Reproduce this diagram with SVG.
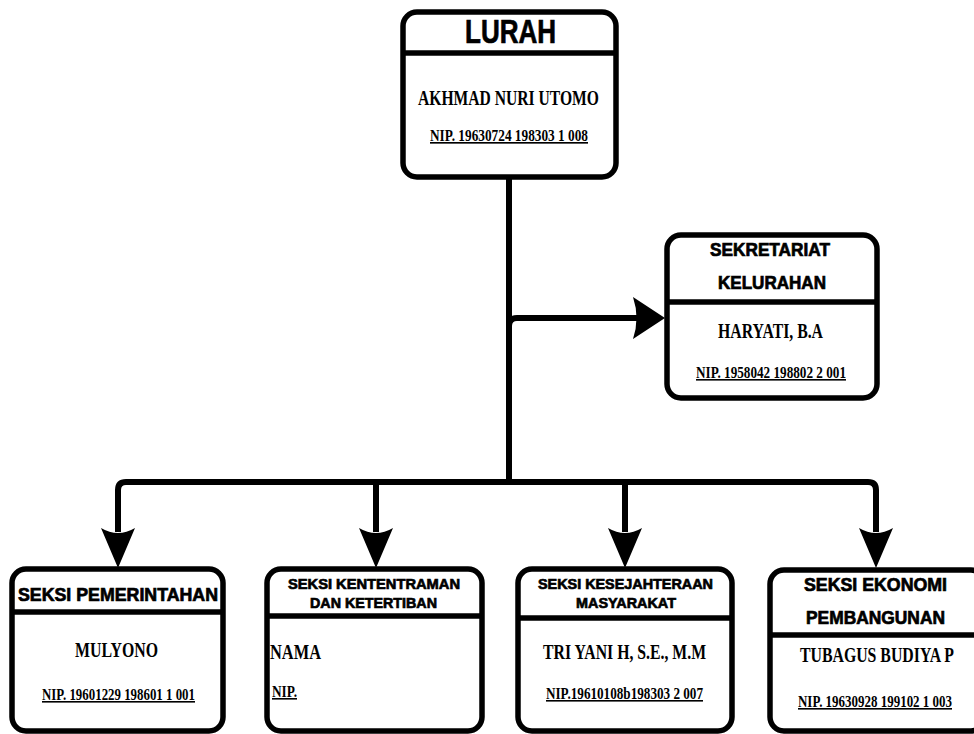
<svg xmlns="http://www.w3.org/2000/svg" width="974" height="734" viewBox="0 0 974 734">
<style>
.box{fill:#fff;stroke:#000;stroke-width:5.5}
.div{stroke:#000;stroke-width:5.5}
.t{font-family:"Liberation Sans",Arial,sans-serif;font-weight:bold;fill:#000;stroke:#000;stroke-width:0.7}
.n{font-family:"Liberation Serif","Times New Roman",serif;font-weight:bold;fill:#000}
.u{text-decoration:underline}
.c{fill:none;stroke:#000;stroke-width:6}
.ah{fill:#000}
</style>
<rect width="974" height="734" fill="#fff"/>
<g id="connectors">
<path class="c" d="M509,177 V482"/>
<path class="c" d="M509,326 Q509,318 517,318 H640"/>
<path class="ah" d="M665,318 L633,297 Q640,318 633,339 Z"/>
<path class="c" d="M118,532 V490 Q118,482 126,482 H868 Q876,482 876,490 V532"/>
<path class="c" d="M376,482 V532"/>
<path class="c" d="M625,482 V532"/>
<path class="ah" d="M118,568 L101,528 Q118,538 135,528 Z"/>
<path class="ah" d="M376,568 L359,528 Q376,538 393,528 Z"/>
<path class="ah" d="M625,568 L608,528 Q625,538 642,528 Z"/>
<path class="ah" d="M876,568 L859,528 Q876,538 893,528 Z"/>
</g>
<g id="lurah">
<rect class="box" x="403" y="12" width="213" height="165" rx="14"/>
<line class="div" x1="403" y1="53" x2="616" y2="53"/>
<text class="t" x="465" y="43" font-size="33" textLength="91" lengthAdjust="spacingAndGlyphs">LURAH</text>
<text class="n" x="418" y="105" font-size="22" textLength="181" lengthAdjust="spacingAndGlyphs">AKHMAD NURI UTOMO</text>
<text class="n u" x="430" y="141" font-size="16.5" textLength="158" lengthAdjust="spacingAndGlyphs">NIP. 19630724 198303 1 008</text>
</g>
<g id="sekretariat">
<rect class="box" x="667" y="235" width="210" height="163" rx="14"/>
<line class="div" x1="667" y1="302" x2="877" y2="302"/>
<text class="t" x="710" y="256" font-size="18" textLength="120" lengthAdjust="spacingAndGlyphs">SEKRETARIAT</text>
<text class="t" x="718" y="289" font-size="18" textLength="108" lengthAdjust="spacingAndGlyphs">KELURAHAN</text>
<text class="n" x="718" y="338" font-size="21" textLength="105" lengthAdjust="spacingAndGlyphs">HARYATI, B.A</text>
<text class="n u" x="696" y="378" font-size="16" textLength="150" lengthAdjust="spacingAndGlyphs">NIP. 1958042 198802 2 001</text>
</g>
<g id="pemerintahan">
<rect class="box" x="12" y="569" width="211" height="162" rx="14"/>
<line class="div" x1="12" y1="612" x2="223" y2="612"/>
<text class="t" x="18" y="601" font-size="18" textLength="200" lengthAdjust="spacingAndGlyphs">SEKSI PEMERINTAHAN</text>
<text class="n" x="75" y="657" font-size="21" textLength="83" lengthAdjust="spacingAndGlyphs">MULYONO</text>
<text class="n u" x="42" y="700" font-size="16" textLength="153" lengthAdjust="spacingAndGlyphs">NIP. 19601229 198601 1 001</text>
</g>
<g id="ketentraman">
<rect class="box" x="267" y="569" width="215" height="162" rx="14"/>
<line class="div" x1="267" y1="616" x2="482" y2="616"/>
<text class="t" x="288" y="589" font-size="15" textLength="172" lengthAdjust="spacingAndGlyphs">SEKSI KENTENTRAMAN</text>
<text class="t" x="310" y="608" font-size="15" textLength="127" lengthAdjust="spacingAndGlyphs">DAN KETERTIBAN</text>
<text class="n" x="270" y="659" font-size="20" textLength="51" lengthAdjust="spacingAndGlyphs">NAMA</text>
<text class="n u" x="272" y="697" font-size="16" textLength="25" lengthAdjust="spacingAndGlyphs">NIP.</text>
</g>
<g id="kesejahteraan">
<rect class="box" x="518" y="569" width="214" height="162" rx="14"/>
<line class="div" x1="518" y1="618" x2="732" y2="618"/>
<text class="t" x="538" y="589" font-size="15" textLength="175" lengthAdjust="spacingAndGlyphs">SEKSI KESEJAHTERAAN</text>
<text class="t" x="576" y="608" font-size="15" textLength="100" lengthAdjust="spacingAndGlyphs">MASYARAKAT</text>
<text class="n" x="543" y="659" font-size="21" textLength="163" lengthAdjust="spacingAndGlyphs">TRI YANI H, S.E., M.M</text>
<text class="n u" x="546" y="699" font-size="16" textLength="157" lengthAdjust="spacingAndGlyphs">NIP.19610108b198303 2 007</text>
</g>
<g id="ekonomi">
<rect class="box" x="770" y="570" width="215" height="161" rx="14"/>
<line class="div" x1="770" y1="635" x2="985" y2="635"/>
<text class="t" x="804" y="591" font-size="18" textLength="143" lengthAdjust="spacingAndGlyphs">SEKSI EKONOMI</text>
<text class="t" x="806" y="624" font-size="18" textLength="139" lengthAdjust="spacingAndGlyphs">PEMBANGUNAN</text>
<text class="n" x="800" y="662" font-size="21" textLength="154" lengthAdjust="spacingAndGlyphs">TUBAGUS BUDIYA P</text>
<text class="n u" x="798" y="707" font-size="16" textLength="154" lengthAdjust="spacingAndGlyphs">NIP. 19630928 199102 1 003</text>
</g>
</svg>
